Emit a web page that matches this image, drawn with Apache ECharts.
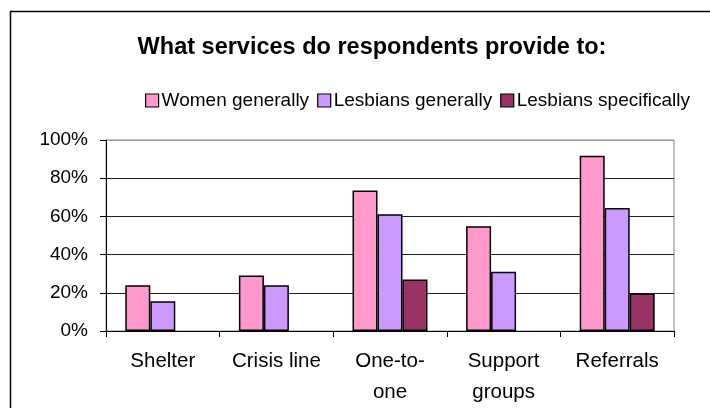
<!DOCTYPE html>
<html>
<head>
<meta charset="utf-8">
<script src="https://cdn.jsdelivr.net/npm/echarts@6/dist/echarts.min.js"></script>
<style>html,body{margin:0;padding:0;background:#fff;}#c{width:710px;height:408px;}</style>
</head>
<body>
<div id="c"></div>
<script>
var categories = ['Shelter', 'Crisis line', 'One-to-\none', 'Support\ngroups', 'Referrals'];
var seriesNames = ['Women generally', 'Lesbians generally', 'Lesbians specifically'];
var womenGenerally = [24, 29, 73.6, 54.8, 91.7];
var lesbiansGenerally = [15.6, 24, 61.1, 31, 64.4];
var lesbiansSpecifically = [null, null, 26.9, null, 19.6];
var yTicks = [0, 20, 40, 60, 80, 100];
var colors = ['#FF99CC', '#CC99FF', '#993366'];
var titleText = 'What services do respondents provide to:';

var chart = echarts.init(document.getElementById('c'));
var font = 'Liberation Sans, Arial, sans-serif';
var values = [womenGenerally, lesbiansGenerally, lesbiansSpecifically];
chart.setOption({
  animation: false,
  textStyle: {fontFamily: font},
  title: {
    text: titleText, left: 367, textAlign: 'center', top: 31,
    textStyle: {fontSize: 23.5, fontWeight: 'bold', color: '#000', fontFamily: font}
  },
  legend: {
    left: 140, top: 86, itemWidth: 13, itemHeight: 13, itemGap: 8,
    icon: 'rect',
    itemStyle: {borderColor: '#000', borderWidth: 1.2},
    textStyle: {fontSize: 19, color: '#000', fontFamily: font, padding: [0, 0, 0, -2]},
    data: seriesNames
  },
  graphic: [{
    type: 'rect', shape: {x: 10.5, y: 11.5, width: 900, height: 600},
    style: {fill: 'none', stroke: '#000', lineWidth: 1.5}, silent: true
  }],
  grid: {left: 106, right: 36, top: 140, bottom: 77, show: true, borderColor: '#888', borderWidth: 1, containLabel: false},
  xAxis: {
    type: 'category', data: categories,
    axisLine: {lineStyle: {color: '#000', width: 1}},
    axisTick: {show: true, length: 6, lineStyle: {color: '#000'}},
    axisLabel: {interval: 0, hideOverlap: false, fontSize: 20.5, color: '#000', margin: 15, lineHeight: 31, fontFamily: font}
  },
  yAxis: {
    type: 'value', min: 0, max: 100, interval: 20,
    axisLine: {show: true, lineStyle: {color: '#000', width: 1}},
    axisTick: {show: true, length: 6, lineStyle: {color: '#000'}},
    axisLabel: {fontSize: 19, color: '#000', margin: 18, formatter: '{value}%', fontFamily: font},
    splitLine: {show: true, lineStyle: {color: ['#222', '#222', '#222', '#222', '#222', '#999'], width: 1}}
  },
  series: seriesNames.map(function (n, i) {
    return {
      name: n, type: 'bar', data: values[i],
      barGap: '0%', barCategoryGap: '34%',
      itemStyle: {color: colors[i], borderColor: '#000', borderWidth: 1.5}
    };
  })
});
</script>
</body>
</html>
